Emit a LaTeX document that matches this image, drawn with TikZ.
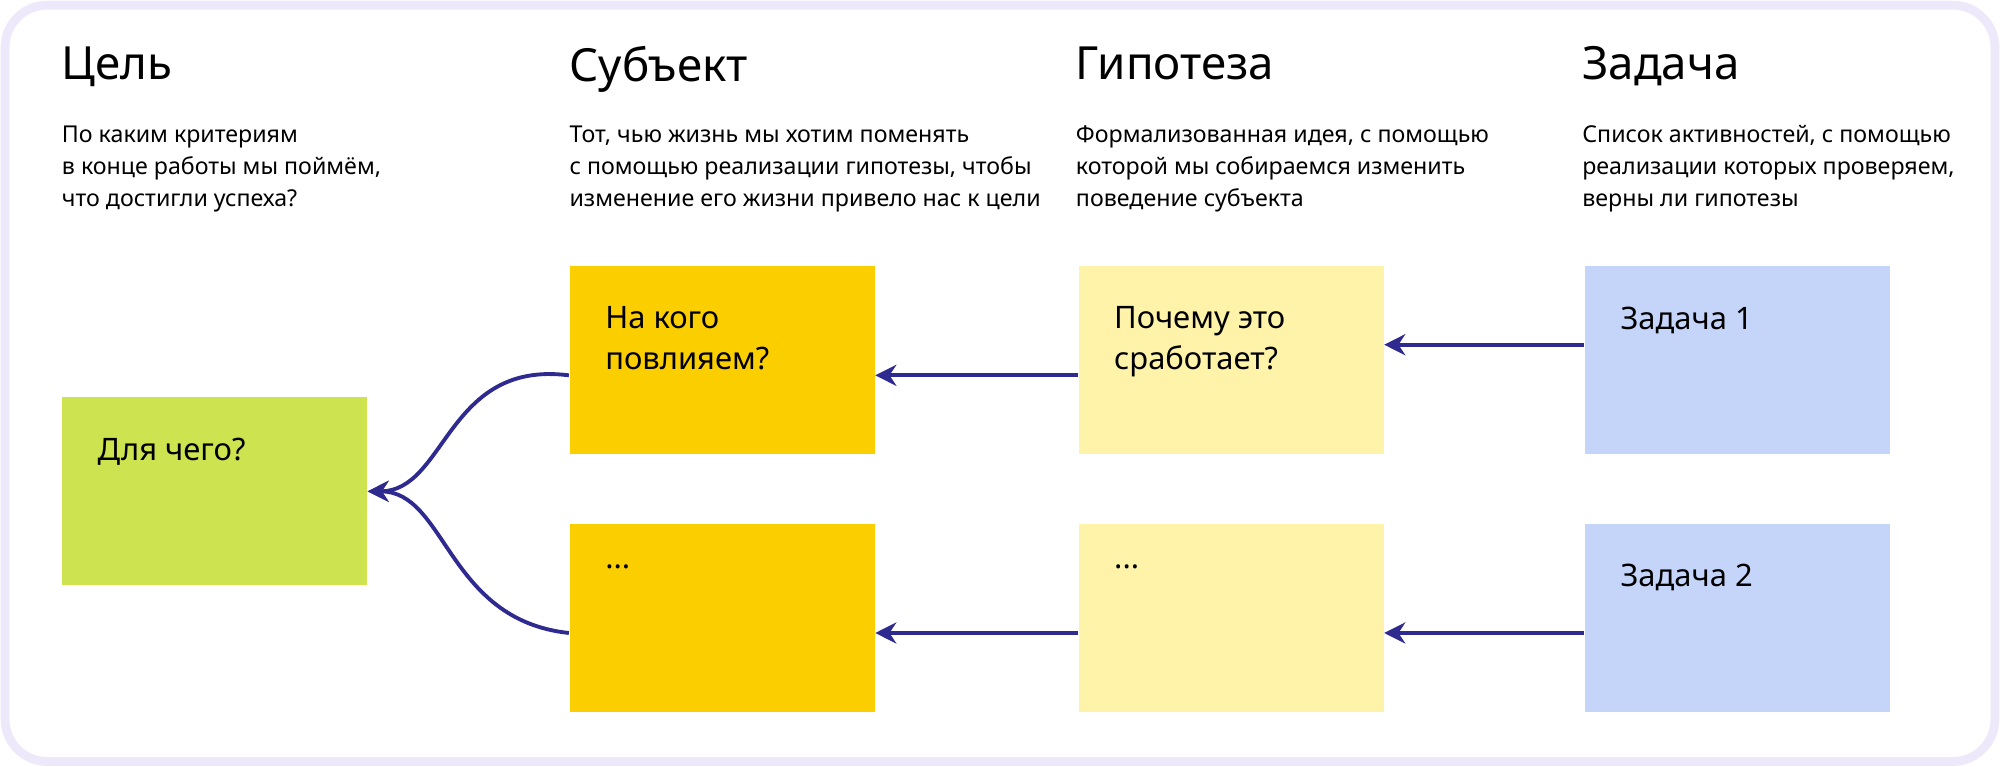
\documentclass[tikz,border=0pt]{standalone}
\usepackage{fontspec}
\setmainfont{Noto Sans}
\usetikzlibrary{positioning,arrows.meta}
\definecolor{frame}{HTML}{EEE8FB}
\definecolor{goalc}{HTML}{CDE34F}
\definecolor{subjc}{HTML}{FBCE00}
\definecolor{hypc}{HTML}{FEF3A8}
\definecolor{taskc}{HTML}{C5D5FA}
\definecolor{arrc}{HTML}{2E2A8F}
\tikzset{
  head/.style={anchor=north west,inner sep=0pt,font=\fontsize{13}{15}\selectfont\bfseries},
  descr/.style={anchor=north west,inner sep=0pt,align=left,font=\fontsize{6.6}{9.1}\selectfont},
  card/.style={anchor=north west,minimum width=3.05cm,minimum height=1.88cm,inner sep=0pt},
  cardtext/.style={anchor=north west,inner sep=0pt,align=left,font=\fontsize{8.8}{11.6}\selectfont},
  link/.style={draw=arrc,line width=1.1pt,-{Stealth[length=6pt,width=6pt]}},
}
\begin{document}
\begin{tikzpicture}[x=0.01275cm,y=-0.01275cm]
\useasboundingbox (0,0) rectangle (1568,601);
\draw[frame,line width=2.5pt,rounded corners=12pt] (4,4) rectangle (1564,597);
% headers
\node[head] (hgoal) at (48,36) {Цель};
\node[head] (hsubj) at (446,36) {Субъект};
\node[head] (hhyp) at (843,36) {Гипотеза};
\node[head] (htask) at (1240,36) {Задача};
% descriptions
\node[descr] (dgoal) at (48,98) {По каким критериям\\в конце работы мы поймём,\\что достигли успеха?};
\node[descr] (dsubj) at (446,98) {Тот, чью жизнь мы хотим поменять\\с помощью реализации гипотезы, чтобы\\изменение его жизни привело нас к цели};
\node[descr] (dhyp) at (843,98) {Формализованная идея, с помощью\\которой мы собираемся изменить\\поведение субъекта};
\node[descr] (dtask) at (1240,98) {Список активностей, с помощью\\реализации которых проверяем,\\верны ли гипотезы};
% cards
\node[card,fill=goalc] (goal) at (48,311) {};
\node[card,fill=subjc] (subjA) at (446,208) {};
\node[card,fill=subjc] (subjB) at (446,410) {};
\node[card,fill=hypc] (hypA) at (845,208) {};
\node[card,fill=hypc] (hypB) at (845,410) {};
\node[card,fill=taskc] (taskA) at (1242,208) {};
\node[card,fill=taskc] (taskB) at (1242,410) {};
\node[cardtext] at (76,343) {Для чего?};
\node[cardtext] at (474,240) {На кого\\повлияем?};
\node[cardtext] at (474,442) {...};
\node[cardtext] at (873,240) {Почему это\\сработает?};
\node[cardtext] at (873,442) {...};
\node[cardtext] at (1270,240) {Задача 1};
\node[cardtext] at (1270,442) {Задача 2};
% arrows
\draw[link] (taskA.west) ++(0,-12) -- ([yshift=12*0.01275cm]hypA.east) ;
\draw[link] ([yshift=-12*0.01275cm]hypA.west) -- ([yshift=-12*0.01275cm]subjA.east);
\draw[link] ([yshift=-12*0.01275cm]taskB.west) -- ([yshift=-12*0.01275cm]hypB.east);
\draw[link] ([yshift=-12*0.01275cm]hypB.west) -- ([yshift=-12*0.01275cm]subjB.east);
\draw[link] ([yshift=-12*0.01275cm]subjA.west) .. controls (350,282) and (350,385) .. (goal.east);
\draw[link] ([yshift=-12*0.01275cm]subjB.west) .. controls (350,486) and (350,385) .. (goal.east);
\end{tikzpicture}
\end{document}
